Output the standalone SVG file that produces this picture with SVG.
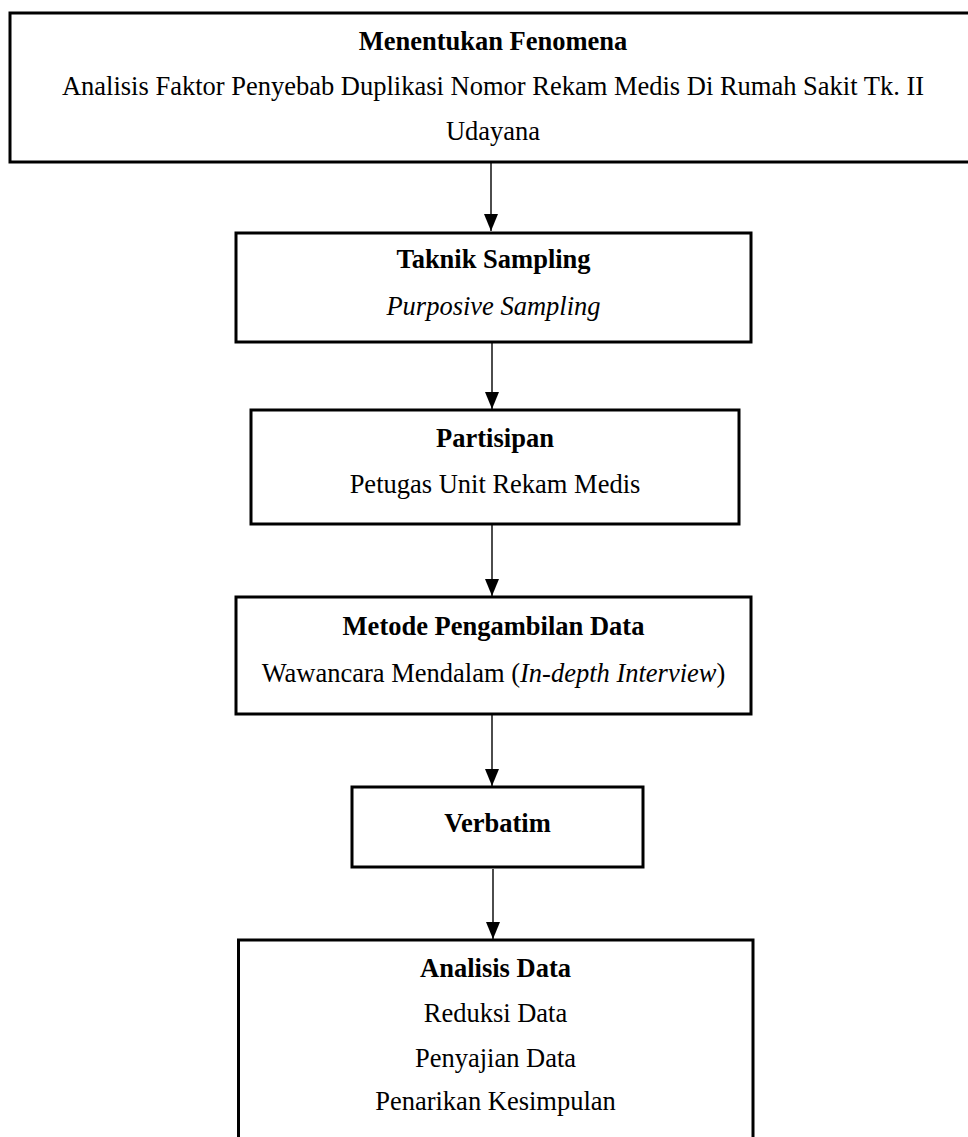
<svg xmlns="http://www.w3.org/2000/svg" width="968" height="1137" viewBox="0 0 968 1137">
<style>
.box{fill:#fff;stroke:#000;stroke-width:3}
.t{font-family:"Liberation Serif","Times New Roman",serif;font-size:26.5px;fill:#000;text-anchor:middle}
.b{font-weight:bold}
.i{font-style:italic}
.c{stroke:#000;stroke-width:1.4;fill:none}
</style>
<defs>
<marker id="ah" markerUnits="userSpaceOnUse" markerWidth="17" markerHeight="14" refX="17" refY="7" orient="auto">
<path d="M0,0 L17,7 L0,14 z" fill="#000"/>
</marker>
</defs>
<rect width="968" height="1137" fill="#fff"/>
<g id="connectors">
<line class="c" x1="491" y1="163" x2="491" y2="231" marker-end="url(#ah)"/>
<line class="c" x1="492" y1="343" x2="492" y2="409" marker-end="url(#ah)"/>
<line class="c" x1="492" y1="525" x2="492" y2="596" marker-end="url(#ah)"/>
<line class="c" x1="492" y1="715" x2="492" y2="786" marker-end="url(#ah)"/>
<line class="c" x1="493" y1="869" x2="493" y2="939" marker-end="url(#ah)"/>
</g>
<g id="n1">
<rect class="box" x="10" y="13" width="975" height="149"/>
<text class="t b" x="493" y="50">Menentukan Fenomena</text>
<text class="t" x="493" y="95">Analisis Faktor Penyebab Duplikasi Nomor Rekam Medis Di Rumah Sakit Tk. II</text>
<text class="t" x="493" y="140">Udayana</text>
</g>
<g id="n2">
<rect class="box" x="236" y="233" width="515" height="109"/>
<text class="t b" x="493.5" y="268">Taknik Sampling</text>
<text class="t i" x="493.5" y="315">Purposive Sampling</text>
</g>
<g id="n3">
<rect class="box" x="251" y="410" width="488" height="114"/>
<text class="t b" x="495" y="447">Partisipan</text>
<text class="t" x="495" y="493">Petugas Unit Rekam Medis</text>
</g>
<g id="n4">
<rect class="box" x="236" y="597" width="515" height="117"/>
<text class="t b" x="493.5" y="635">Metode Pengambilan Data</text>
<text class="t" x="493.5" y="682">Wawancara Mendalam (<tspan class="i">In-depth Interview</tspan>)</text>
</g>
<g id="n5">
<rect class="box" x="352" y="787" width="291" height="80"/>
<text class="t b" x="497.5" y="832">Verbatim</text>
</g>
<g id="n6">
<rect class="box" x="238.5" y="940" width="514.5" height="220"/>
<text class="t b" x="495.5" y="977">Analisis Data</text>
<text class="t" x="495.5" y="1022">Reduksi Data</text>
<text class="t" x="495.5" y="1067">Penyajian Data</text>
<text class="t" x="495.5" y="1110">Penarikan Kesimpulan</text>
</g>
</svg>
